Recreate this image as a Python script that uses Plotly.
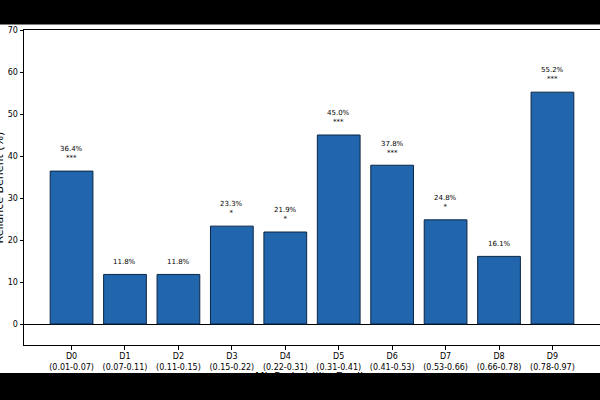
import plotly.graph_objects as go

categories = ["D0", "D1", "D2", "D3", "D4", "D5", "D6", "D7", "D8", "D9"]
ranges = ["(0.01-0.07)", "(0.07-0.11)", "(0.11-0.15)", "(0.15-0.22)", "(0.22-0.31)",
          "(0.31-0.41)", "(0.41-0.53)", "(0.53-0.66)", "(0.66-0.78)", "(0.78-0.97)"]
values = [36.4, 11.8, 11.8, 23.3, 21.9, 45.0, 37.8, 24.8, 16.1, 55.2]
stars = ["***", "", "", "*", "*", "***", "***", "*", "", "***"]
y_ticks = [0, 10, 20, 30, 40, 50, 60, 70]

FONT = "DejaVu Sans"
W, H = 600, 400
L, R, T, B = 24, 0, 29.5, 55
plot_h = H - T - B

x = list(range(len(categories)))
fig = go.Figure()
fig.add_trace(go.Bar(
    x=x, y=values, width=0.8,
    marker=dict(color="#2166ac", line=dict(color="#0b2545", width=1)),
    showlegend=False, hoverinfo="skip",
))

annotations = []
for xi, v, s in zip(x, values, stars):
    txt = f"{v:.1f}%" + (f"<br>{s}" if s else "")
    annotations.append(dict(x=xi, y=v + 1.6, xref="x", yref="y", text=txt,
                            showarrow=False, yanchor="bottom", xanchor="center",
                            font=dict(family=FONT, size=7, color="black")))

# axis titles
annotations.append(dict(x=(312 - L) / (W - L), y=-(368 - (H - B)) / plot_h, xref="paper", yref="paper",
                        text="ML Probability Decile", showarrow=False, xanchor="center", yanchor="top",
                        font=dict(family=FONT, size=11, color="black")))
annotations.append(dict(x=(-1 - L) / (W - L), y=0.5, xref="paper", yref="paper",
                        text="Reliance Benefit (%)", showarrow=False, textangle=-90,
                        xanchor="center", yanchor="middle",
                        font=dict(family=FONT, size=11, color="black")))

shapes = [
    dict(type="rect", xref="paper", yref="paper", x0=-0.1, x1=1.1,
         y0=1 + (T - 24) / plot_h, y1=1.3, fillcolor="black", line=dict(width=0), layer="above"),
    dict(type="rect", xref="paper", yref="paper", x0=-0.1, x1=1.1,
         y0=-(373 - (H - B)) / plot_h, y1=-0.4, fillcolor="black", line=dict(width=0), layer="above"),
]

fig.update_layout(
    width=W, height=H,
    margin=dict(l=L, r=R, t=T, b=B, pad=0),
    paper_bgcolor="white", plot_bgcolor="white",
    font=dict(family=FONT, size=8, color="black"),
    annotations=annotations, shapes=shapes,
    bargap=0.2,
)
fig.update_xaxes(
    range=[-0.89, 9.89], tickmode="array", tickvals=x,
    ticktext=[f"{c}<br>{r}" for c, r in zip(categories, ranges)],
    ticks="outside", ticklen=3.5, tickcolor="black", tickwidth=1,
    showline=True, linecolor="black", linewidth=1, mirror=True,
    showgrid=False, zeroline=False, automargin=False,
    tickfont=dict(family=FONT, size=8, color="black"),
)
fig.update_yaxes(
    range=[-5, 70], tickmode="array", tickvals=y_ticks,
    ticks="outside", ticklen=3.5, tickcolor="black", tickwidth=1,
    showline=True, linecolor="black", linewidth=1, mirror=True,
    showgrid=False, zeroline=True, zerolinecolor="black", zerolinewidth=1,
    automargin=False,
    tickfont=dict(family=FONT, size=8, color="black"),
)

fig.write_html("out.html", config={"displayModeBar": False},
               post_script="document.body.style.margin='0';document.body.style.overflow='hidden';")
